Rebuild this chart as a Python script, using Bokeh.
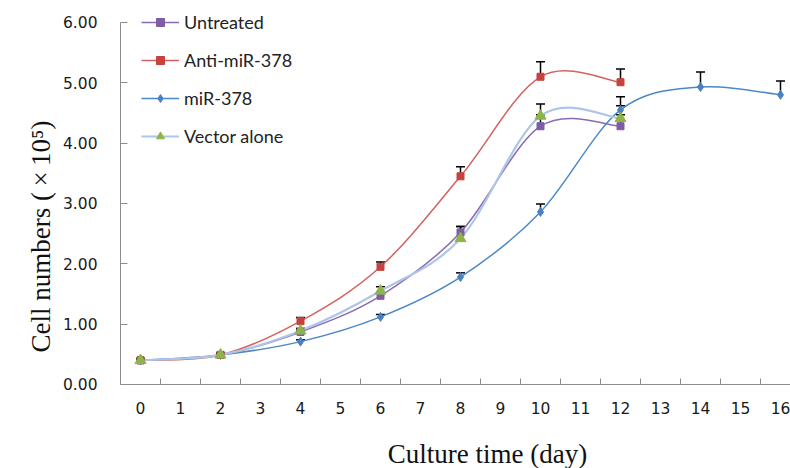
import numpy as np
from bokeh.plotting import figure
from bokeh.models import (ColumnDataSource, FixedTicker, NumeralTickFormatter,
                          Whisker, TeeHead, Legend, LegendItem, Range1d, Label)
from bokeh.embed import file_html
from bokeh.resources import INLINE

# ---------------- data ----------------
days_short = [0, 2, 4, 6, 8, 10, 12]
days_long = [0, 2, 4, 6, 8, 10, 12, 14, 16]

untreated = [0.40, 0.49, 0.87, 1.47, 2.52, 4.28, 4.28]
untreated_err = [0.02, 0.03, 0.03, 0.06, 0.10, 0.19, 0.19]

anti_mir = [0.40, 0.49, 1.05, 1.95, 3.45, 5.10, 5.01]
anti_mir_err = [0.02, 0.03, 0.06, 0.08, 0.16, 0.25, 0.22]

mir_378 = [0.40, 0.49, 0.71, 1.12, 1.78, 2.86, 4.55, 4.93, 4.80]
mir_378_err = [0.02, 0.03, 0.03, 0.04, 0.07, 0.13, 0.22, 0.25, 0.23]

vector = [0.40, 0.49, 0.89, 1.55, 2.42, 4.45, 4.41]
vector_err = [0.02, 0.03, 0.04, 0.07, 0.20, 0.20, 0.21]

x_tick_values = list(range(0, 17))
x_tick_labels = [str(i) for i in x_tick_values]
y_tick_values = [0, 1, 2, 3, 4, 5, 6]

series = [
    dict(name="Untreated", x=days_short, y=untreated, err=untreated_err,
         line="#8A6BB0", lw=1.5, marker="square", mcolor="#7E5CA6", msize=7),
    dict(name="Anti-miR-378", x=days_short, y=anti_mir, err=anti_mir_err,
         line="#D2625D", lw=1.5, marker="square", mcolor="#C9413C", msize=7),
    dict(name="miR-378", x=days_long, y=mir_378, err=mir_378_err,
         line="#4D87C7", lw=1.5, marker="diamond", mcolor="#4A80C4", msize=9),
    dict(name="Vector alone", x=days_short, y=vector, err=vector_err,
         line="#ADC6E8", lw=2.2, marker="triangle", mcolor="#8DB446", msize=11),
]


def bezier_source(xs, ys, k=1.0 / 6.0):
    xs = np.asarray(xs, dtype=float)
    ys = np.asarray(ys, dtype=float)
    n = len(xs)
    i = np.arange(n - 1)
    ip = np.clip(i - 1, 0, n - 1)
    inn = np.clip(i + 2, 0, n - 1)
    return ColumnDataSource(dict(
        x0=xs[i], y0=ys[i], x1=xs[i + 1], y1=ys[i + 1],
        cx0=xs[i] + (xs[i + 1] - xs[ip]) * k,
        cy0=ys[i] + (ys[i + 1] - ys[ip]) * k,
        cx1=xs[i + 1] - (xs[inn] - xs[i]) * k,
        cy1=ys[i + 1] - (ys[inn] - ys[i]) * k,
    ))


# ---------------- figure ----------------
p = figure(width=790, height=468, output_backend="svg", toolbar_location=None,
           x_range=Range1d(-0.5, 16.25), y_range=Range1d(-1.393, 6.298),
           min_border_left=120, min_border_top=4, min_border_right=0,
           min_border_bottom=0)
p.outline_line_color = None
p.xgrid.visible = False
p.ygrid.visible = False
p.background_fill_color = "white"
p.border_fill_color = "white"

axis_color = "#8C8C8C"
tick_font = "DejaVu Sans"

xa = p.xaxis[0]
xa.fixed_location = 0
xa.ticker = FixedTicker(ticks=x_tick_values,
                        minor_ticks=[v - 0.5 for v in x_tick_values] + [16.5])
xa.major_label_overrides = {v: lab for v, lab in zip(x_tick_values, x_tick_labels)}
xa.major_tick_in = 0
xa.major_tick_out = 0
xa.minor_tick_in = 6
xa.minor_tick_out = 0
xa.minor_tick_line_color = axis_color
xa.axis_line_color = axis_color
xa.major_label_standoff = 18
xa.major_label_text_font = tick_font
xa.major_label_text_font_size = "15.5px"
xa.major_label_text_color = "#1a1a1a"

x_title = Label(text="Culture time (day)", x=367, y=15, x_units="screen",
                y_units="screen", text_align="center",
                text_baseline="alphabetic", text_font="Liberation Serif",
                text_font_size="27px", text_color="#111111")
p.add_layout(x_title)

ya = p.yaxis[0]
ya.bounds = (0, 6)
ya.ticker = FixedTicker(ticks=y_tick_values, minor_ticks=[])
ya.formatter = NumeralTickFormatter(format="0.00")
ya.major_tick_in = 7
ya.major_tick_out = 0
ya.major_tick_line_color = axis_color
ya.minor_tick_line_color = None
ya.axis_line_color = axis_color
ya.major_label_standoff = 23
ya.major_label_text_font = tick_font
ya.major_label_text_font_size = "15.5px"
ya.major_label_text_color = "#1a1a1a"
ya.axis_label = "Cell numbers (\u2009\u00d7\u200910\u2075)"
ya.axis_label_text_font = "Liberation Serif"
ya.axis_label_text_font_style = "normal"
ya.axis_label_text_font_size = "27px"
ya.axis_label_text_color = "#111111"
ya.axis_label_standoff = 4

line_renderers = []
for s in series:
    r = p.bezier(x0="x0", y0="y0", x1="x1", y1="y1", cx0="cx0", cy0="cy0",
                 cx1="cx1", cy1="cy1", source=bezier_source(s["x"], s["y"]),
                 line_color=s["line"], line_width=s["lw"])
    line_renderers.append(r)

marker_renderers = []
for s in series:
    src = ColumnDataSource(dict(x=s["x"], y=s["y"],
                                top=[a + b for a, b in zip(s["y"], s["err"])]))
    w = Whisker(base="x", lower="y", upper="top", source=src, dimension="height",
                line_color="black", line_width=1.5, lower_head=None,
                upper_head=TeeHead(size=9, line_color="black", line_width=1.5))
    p.add_layout(w)
    m = p.scatter(x="x", y="y", source=src, marker=s["marker"], size=s["msize"],
                  fill_color=s["mcolor"], line_color=s["mcolor"])
    marker_renderers.append(m)

items = []
for s, lr, mr in zip(series, line_renderers, marker_renderers):
    items.append(LegendItem(label=s["name"], renderers=[lr, mr]))

legend = Legend(items=items, location=(21, 321), padding=0, margin=0,
                spacing=16, label_height=20, glyph_height=20, glyph_width=38,
                label_standoff=5, border_line_color=None,
                background_fill_alpha=0, label_text_font="Lato",
                label_text_font_size="18px", label_text_color="#222222")
p.add_layout(legend)

open("out.html", "w").write(file_html(p, INLINE))
